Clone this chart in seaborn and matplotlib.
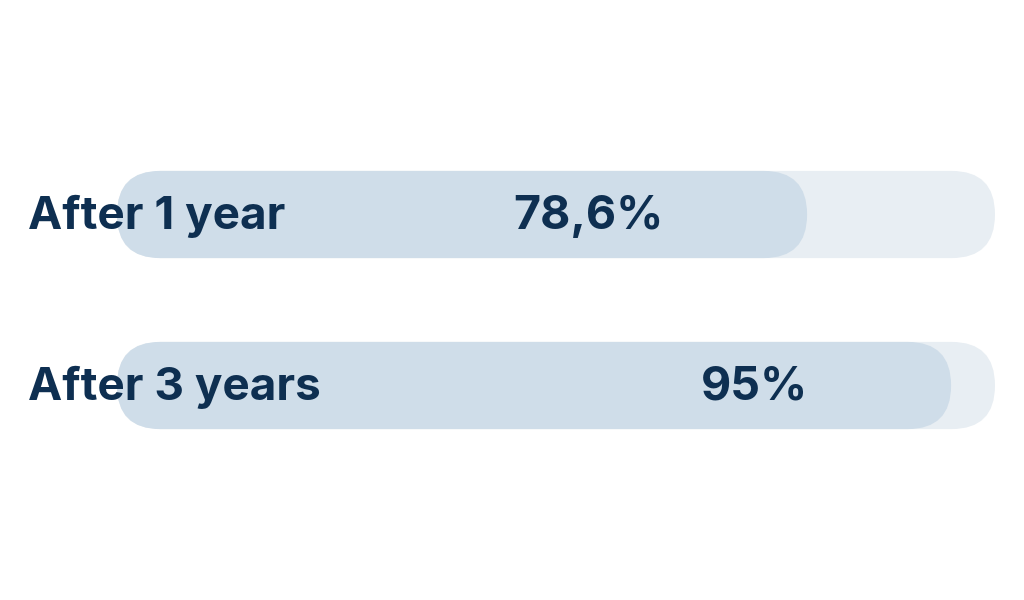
import matplotlib
matplotlib.use("Agg")
import matplotlib.pyplot as plt
import seaborn as sns
from matplotlib.patches import FancyBboxPatch

labels = ["After 1 year", "After 3 years"]
values = [78.6, 95]
value_text = ["78,6%", "95%"]
track = [100, 100]

navy = "#0e2f51"
fill_col = "#cfdde9"
track_col = "#e8eef3"

sns.set_style("white")
plt.rcParams["font.family"] = ["Inter", "DejaVu Sans"]

fig = plt.figure(figsize=(10.24, 6), dpi=100)
ax = fig.add_axes([0, 0, 1, 1])

sns.barplot(x=track, y=labels, orient="h", color=track_col, width=0.51,
            saturation=1, ax=ax)
sns.barplot(x=values, y=labels, orient="h", color=fill_col, width=0.51,
            saturation=1, ax=ax)

# pixel-ish scale: 878 px for 0..100, 171 px between the rows
px_x = 8.78
px_y = 171
ax.set_xlim(-117 / px_x, (1024 - 117) / px_x)
ax.set_ylim((600 - 214.5) / px_y, -214.5 / px_y)

# swap square bars for pill shapes
r = 43.5 / px_x
for p in list(ax.patches):
    x, y = p.get_x(), p.get_y()
    w, h = p.get_width(), p.get_height()
    pill = FancyBboxPatch((x, y), w, h,
                          boxstyle=f"round,pad=0,rounding_size={r}",
                          mutation_aspect=px_x / px_y,
                          facecolor=p.get_facecolor(), edgecolor="none",
                          zorder=p.get_zorder())
    p.remove()
    ax.add_patch(pill)

for i, lab in enumerate(labels):
    ax.text(-89 / px_x, i + 0.012, lab, ha="left", va="center", fontsize=33,
            fontweight="bold", color=navy, zorder=5)
    ax.text(values[i] - 16.3, i + 0.012, value_text[i], ha="right", va="center",
            fontsize=33.5, fontweight="bold", color=navy, zorder=5)

ax.set_axis_off()
fig.savefig("out.png", dpi=100, facecolor="white")
